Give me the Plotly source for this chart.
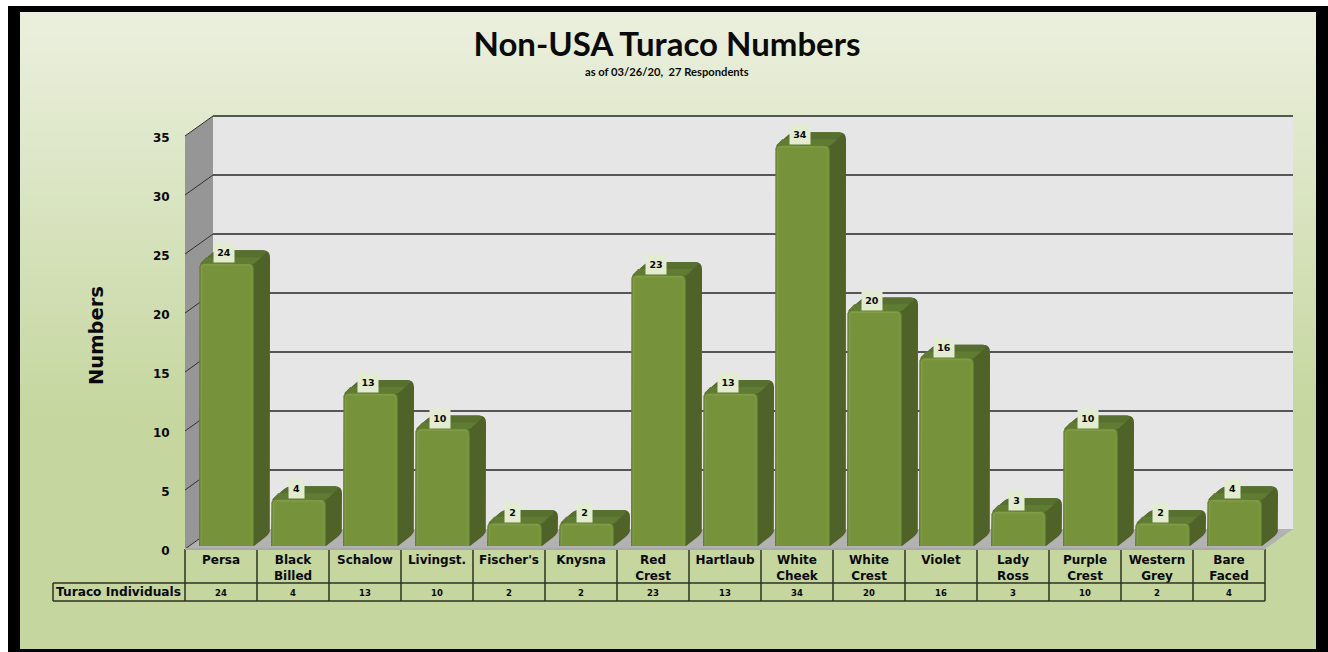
import plotly.graph_objects as go

# Chart content
SPECIES = ["Persa", "Black<br>Billed", "Schalow", "Livingst.", "Fischer's", "Knysna", "Red<br>Crest",
           "Hartlaub", "White<br>Cheek", "White<br>Crest", "Violet", "Lady<br>Ross", "Purple<br>Crest",
           "Western<br>Grey", "Bare<br>Faced"]
INDIVIDUALS = [24, 4, 13, 10, 2, 2, 23, 13, 34, 20, 16, 3, 10, 2, 4]
Y_TICKS = [0, 5, 10, 15, 20, 25, 30, 35]
TITLE = "Non-USA Turaco Numbers"
SUBTITLE = "as of 03/26/20,  27 Respondents"
ROW_HEADER = "Turaco Individuals"

# Page and plot geometry, in pixels
W, H = 1328, 652
LEFT, RIGHT, TOP, BOTTOM = 185, 1296, 112, 549
PX_X, PX_Y = 72.0, 11.8        # pixels per category, pixels per count
WALL_DX, WALL_DY = 28.0, 20.0  # depth of the 3-D box
BAR_DX, BAR_DY = 16.0, 12.5    # depth of each column
BAR_W = 55.0
BAR_SHIFT = 5.5                # columns sit slightly behind the front plane
BAR_LIFT = 3.0
N = len(SPECIES)

INK = "#0a0a0a"
FONT = "DejaVu Sans"


def dx(px):
    return px / PX_X


def dy(px):
    return px / PX_Y


def fx(px):
    return px / W


def fy(py):
    return 1 - py / H


def rounded(points, radii):
    """Round a polygon's corners; points are data pairs, radii are pixels per corner."""
    scaled = [(x * PX_X, y * PX_Y) for x, y in points]
    out = []
    n = len(scaled)
    for i in range(n):
        r = radii[i]
        p0, p1, p2 = scaled[i - 1], scaled[i], scaled[(i + 1) % n]
        d0 = max(((p0[0] - p1[0]) ** 2 + (p0[1] - p1[1]) ** 2) ** 0.5, 1e-6)
        d2 = max(((p2[0] - p1[0]) ** 2 + (p2[1] - p1[1]) ** 2) ** 0.5, 1e-6)
        a = (p1[0] + (p0[0] - p1[0]) * min(r, d0 / 2) / d0, p1[1] + (p0[1] - p1[1]) * min(r, d0 / 2) / d0)
        b = (p1[0] + (p2[0] - p1[0]) * min(r, d2 / 2) / d2, p1[1] + (p2[1] - p1[1]) * min(r, d2 / 2) / d2)
        for k in range(5):
            t = k / 4
            out.append(((1 - t) ** 2 * a[0] + 2 * t * (1 - t) * p1[0] + t ** 2 * b[0],
                        (1 - t) ** 2 * a[1] + 2 * t * (1 - t) * p1[1] + t ** 2 * b[1]))
    return [(x / PX_X, y / PX_Y) for x, y in out]


shapes = []


def page_rect(x0, y0, x1, y1, color):
    shapes.append(dict(type="rect", xref="paper", yref="paper", x0=fx(x0), x1=fx(x1), y0=fy(y0), y1=fy(y1),
                       fillcolor=color, line_width=0, layer="below"))


def mix(c0, c1, t):
    return "rgb(%d,%d,%d)" % tuple(round(a + (b - a) * t) for a, b in zip(c0, c1))


# Black frame and the vertical green gradient inside it
page_rect(8, 6, 1328, 652, "#000000")
page_rect(20, 12, 1316, 649, "#c5d69e")
GRAD_TOP, GRAD_END, STEP = 12, 420, 4
for band_y in range(GRAD_TOP, GRAD_END, STEP):
    t = (band_y - GRAD_TOP) / (GRAD_END - GRAD_TOP)
    page_rect(20, band_y, 1316, band_y + STEP + 0.5, mix((235, 240, 222), (197, 214, 158), t))


def wall(path_pts, color):
    path = "M " + " L ".join(f"{x},{y}" for x, y in path_pts) + " Z"
    shapes.append(dict(type="path", xref="x", yref="y", path=path, fillcolor=color, line_width=0, layer="below"))


# The 3-D box: back wall, side wall and floor
back_x0, back_x1 = dx(WALL_DX), N + dx(WALL_DX)
back_y0 = dy(WALL_DY)
wall_top = max(Y_TICKS)
wall([(back_x0, back_y0), (back_x1, back_y0), (back_x1, back_y0 + wall_top), (back_x0, back_y0 + wall_top)], "#e6e6e6")
wall([(0, 0), (back_x0, back_y0), (back_x0, back_y0 + wall_top), (0, wall_top)], "#969696")
wall([(0, 0), (N, 0), (back_x1, back_y0), (back_x0, back_y0)], "#b2b2b2")

for v in Y_TICKS:
    if v > 0:
        shapes.append(dict(type="line", xref="x", yref="y", x0=back_x0, x1=back_x1, y0=back_y0 + v, y1=back_y0 + v,
                           line=dict(color="#262626", width=1.5), layer="below"))
    shapes.append(dict(type="line", xref="x", yref="y", x0=0, x1=back_x0, y0=v, y1=back_y0 + v,
                       line=dict(color="#303030", width=1), layer="below"))

# Data table grid under the chart
LINE = dict(color="#2c3320", width=1.5)
ROW_TOP, ROW_MID, ROW_END = 549, 583, 601
HEAD_X = 53
cell_edges = [LEFT + PX_X * i for i in range(N + 1)]
for i, edge in enumerate(cell_edges):
    shapes.append(dict(type="line", xref="paper", yref="paper", x0=fx(edge), x1=fx(edge), y0=fy(ROW_TOP), y1=fy(ROW_END),
                       line=LINE))
shapes.append(dict(type="line", xref="paper", yref="paper", x0=fx(HEAD_X), x1=fx(cell_edges[-1]), y0=fy(ROW_MID), y1=fy(ROW_MID), line=LINE))
shapes.append(dict(type="line", xref="paper", yref="paper", x0=fx(HEAD_X), x1=fx(cell_edges[-1]), y0=fy(ROW_END), y1=fy(ROW_END), line=LINE))
shapes.append(dict(type="line", xref="paper", yref="paper", x0=fx(HEAD_X), x1=fx(HEAD_X), y0=fy(ROW_MID), y1=fy(ROW_END), line=LINE))
shapes.append(dict(type="line", xref="paper", yref="paper", x0=fx(LEFT), x1=fx(cell_edges[-1]), y0=fy(ROW_TOP), y1=fy(ROW_TOP),
                   line=dict(color="#a8a8a8", width=2)))

centers = [i + 0.5 + dx(BAR_SHIFT) for i in range(N)]
lift = dy(BAR_LIFT)
fig = go.Figure()


def append_polygon(xs, ys, pts):
    for px, py in pts + [pts[0]]:
        xs.append(px)
        ys.append(py)
    xs.append(None)
    ys.append(None)


# Column sides and tops come first, so the fronts can sit over them:
# a dark silhouette, then the top face in two shades
body_x, body_y, top_x, top_y, rim_x, rim_y = [], [], [], [], [], []
ddx, ddy = dx(BAR_DX), dy(BAR_DY)
for c, v in zip(centers, INDIVIDUALS):
    x0, x1 = c - dx(BAR_W / 2), c + dx(BAR_W / 2)
    y_top, y_base = v + lift, lift
    append_polygon(body_x, body_y, rounded(
        [(x0 + dx(1), y_top - dy(1)), (x0 + ddx, y_top + ddy), (x1 + ddx, y_top + ddy),
         (x1 + ddx, y_base + ddy), (x1, y_base), (x1 - dx(4), y_base)],
        [2, 5, 7, 4, 0, 0]))
    append_polygon(top_x, top_y, rounded(
        [(x0 + dx(1), y_top - dy(1)), (x0 + ddx, y_top + ddy), (x1 + ddx - dx(1), y_top + ddy), (x1, y_top - dy(1))],
        [2, 5, 6, 2]))
    f = 0.45
    append_polygon(rim_x, rim_y, [
        (x0 + dx(1), y_top - dy(1)), (x0 + ddx * f, y_top + ddy * f),
        (x1 + ddx * f, y_top + ddy * f), (x1, y_top - dy(1))])

fig.add_trace(go.Scatter(x=body_x, y=body_y, mode="lines", fill="toself", fillcolor="#4f6228", line=dict(width=0),
                         hoverinfo="skip", showlegend=False))
fig.add_trace(go.Scatter(x=top_x, y=top_y, mode="lines", fill="toself", fillcolor="#577030", line=dict(width=0),
                         hoverinfo="skip", showlegend=False))
fig.add_trace(go.Scatter(x=rim_x, y=rim_y, mode="lines", fill="toself", fillcolor="#607b32", line=dict(width=0),
                         hoverinfo="skip", showlegend=False))

# Column fronts: nested shapes build up the bevelled edge, each one drawn from the counts
LAYERS = [  # side inset px, top inset px, colour, corner radius
    (0.0, 0.0, "#627e2f", 6),
    (0.8, 0.8, "#6d8a35", 6),
    (1.6, 1.2, "#809c46", 5),
    (2.6, 3.0, "#76933b", 3),
]
for inset, top_inset, color, radius in LAYERS:
    fx_pts, fy_pts = [], []
    half = dx(BAR_W / 2 - inset)
    for c, v in zip(centers, INDIVIDUALS):
        append_polygon(fx_pts, fy_pts, rounded(
            [(c - half, lift), (c - half, v + lift - dy(top_inset)), (c + half, v + lift - dy(top_inset)), (c + half, lift)],
            [0, radius, radius, 0]))
    fig.add_trace(go.Scatter(x=fx_pts, y=fy_pts, mode="lines", fill="toself", fillcolor=color, line=dict(width=0),
                             hoverinfo="skip", showlegend=False))

annotations = []

# Value labels above each column
for c, v in zip(centers, INDIVIDUALS):
    annotations.append(dict(x=c - dx(2.5), y=v + lift + dy(10), xref="x", yref="y", text=str(v), showarrow=False,
                            xanchor="center", yanchor="middle", bgcolor="#e3ebd0", width=18 if v > 9 else 13, height=17,
                            font=dict(family=FONT, size=9.5, color=INK, weight=700)))

# Data table values and row header
for i, v in enumerate(INDIVIDUALS):
    annotations.append(dict(x=i + 0.5, y=fy(592.5), xref="x", yref="paper", text=str(v), showarrow=False,
                            xanchor="center", yanchor="middle",
                            font=dict(family=FONT, size=8.5, color=INK, weight=700)))
annotations.append(dict(x=fx(118), y=fy(591.5), xref="paper", yref="paper", text=ROW_HEADER, showarrow=False,
                        xanchor="center", yanchor="middle", font=dict(family=FONT, size=12.2, color=INK, weight=700)))

# Subtitle and rotated axis caption
annotations.append(dict(x=fx(667), y=fy(71), xref="paper", yref="paper", text=SUBTITLE, showarrow=False,
                        xanchor="center", yanchor="middle", font=dict(family="Lato", size=11.2, color=INK, weight=700)))
annotations.append(dict(x=fx(96), y=fy(336), xref="paper", yref="paper", text="Numbers", showarrow=False, textangle=-90,
                        xanchor="center", yanchor="middle", font=dict(family=FONT, size=19.5, color=INK, weight=700)))

fig.update_layout(
    width=W, height=H,
    margin=dict(l=0, r=0, t=0, b=0),
    paper_bgcolor="#ffffff",
    plot_bgcolor="rgba(0,0,0,0)",
    showlegend=False,
    shapes=shapes,
    annotations=annotations,
    title=dict(text=TITLE, x=fx(667), y=fy(44), xref="paper", yref="paper", xanchor="center", yanchor="middle",
               font=dict(family="Lato", size=33, color=INK, weight=700), automargin=False),
    xaxis=dict(
        domain=[fx(LEFT), fx(RIGHT)],
        range=[0, (RIGHT - LEFT) / PX_X],
        automargin=False,
        tickmode="array",
        tickvals=[i + 0.5 for i in range(N)],
        ticktext=SPECIES,
        ticks="",
        ticklabelstandoff=2,
        tickfont=dict(family=FONT, size=12, color=INK, weight=700),
        showgrid=False, zeroline=False, showline=False, tickangle=0,
    ),
    yaxis=dict(
        domain=[fy(BOTTOM), fy(TOP)],
        range=[0, (BOTTOM - TOP) / PX_Y],
        automargin=False,
        tickmode="array",
        tickvals=Y_TICKS,
        ticks="outside", ticklen=12, tickcolor="rgba(0,0,0,0)",
        ticklabelshift=2,
        tickfont=dict(family=FONT, size=12, color=INK, weight=700),
        showgrid=False, zeroline=False, showline=False,
    ),
)

fig.write_html("out.html")
